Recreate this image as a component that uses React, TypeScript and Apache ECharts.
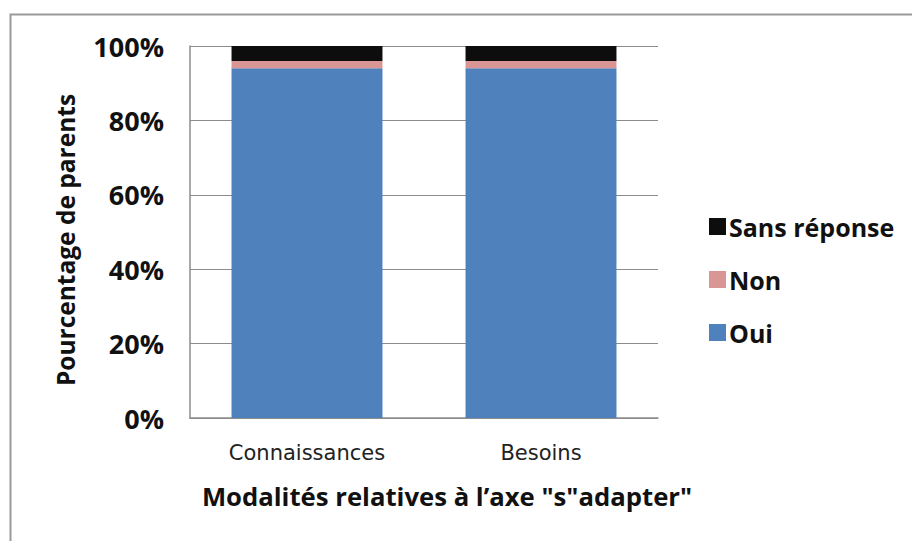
import React, { useEffect, useRef } from "react";
import * as echarts from "echarts";

const categories = ["Connaissances", "Besoins"];
const oui = [94, 94];
const non = [2, 2];
const sansReponse = [4, 4];
const legendOrder = ["Sans réponse", "Non", "Oui"];

const FONT = "'Open Sans', Lato, sans-serif";

export default function App() {
  const ref = useRef<HTMLDivElement>(null);

  useEffect(() => {
    if (!ref.current) return;
    const chart = echarts.init(ref.current, undefined, { renderer: "svg" });
    const barCommon = {
      type: "bar" as const,
      stack: "total",
      barCategoryGap: "35.5%",
    };
    chart.setOption({
      animation: false,
      backgroundColor: "#ffffff",
      graphic: [
        {
          type: "rect",
          shape: { x: 10.5, y: 14.5, width: 1000, height: 700 },
          style: { fill: "none", stroke: "#9a9a9a", lineWidth: 2 },
          silent: true,
        },
      ],
      grid: { left: 190, right: 254, top: 46, bottom: 123 },
      legend: {
        data: legendOrder,
        orient: "vertical",
        left: 704,
        top: 209,
        itemWidth: 17,
        itemHeight: 17,
        itemGap: 28,
        icon: "rect",
        textStyle: {
          fontFamily: FONT,
          fontWeight: "bold",
          fontSize: 25,
          color: "#111",
          padding: [0, 0, 0, -2],
        },
      },
      xAxis: {
        type: "category",
        data: categories,
        name: "Modalités relatives à l’axe \"s\"adapter\"",
        nameLocation: "middle",
        nameGap: 65,
        nameTextStyle: {
          fontFamily: FONT,
          fontWeight: "bold",
          fontSize: 25.7,
          color: "#111",
          padding: [0, 0, 0, 46],
        },
        axisLine: { lineStyle: { color: "#8c8c8c", width: 1.5 } },
        axisTick: { show: false },
        axisLabel: {
          fontFamily: "'DejaVu Sans', sans-serif",
          fontSize: 21,
          color: "#222",
          margin: 24,
        },
      },
      yAxis: {
        type: "value",
        min: 0,
        max: 100,
        interval: 20,
        name: "Pourcentage de parents",
        nameLocation: "middle",
        nameGap: 112,
        nameTextStyle: {
          fontFamily: FONT,
          fontWeight: "bold",
          fontSize: 24.5,
          color: "#111",
          padding: [0, 16, 0, 0],
        },
        axisLine: { show: true, lineStyle: { color: "#8c8c8c", width: 1.5 } },
        axisTick: { show: false },
        splitLine: { lineStyle: { color: "#8c8c8c", width: 1.2 } },
        axisLabel: {
          formatter: "{value}%",
          fontFamily: FONT,
          fontWeight: "bold",
          fontSize: 27,
          color: "#111",
          margin: 26,
        },
      },
      series: [
        { ...barCommon, name: "Oui", data: oui, itemStyle: { color: "#4F81BD" } },
        { ...barCommon, name: "Non", data: non, itemStyle: { color: "#D99694" } },
        {
          ...barCommon,
          name: "Sans réponse",
          data: sansReponse,
          itemStyle: { color: "#0D0D0D" },
        },
      ],
    });
    return () => chart.dispose();
  }, []);

  return (
    <div
      ref={ref}
      style={{ position: "fixed", left: 0, top: 0, width: 912, height: 541 }}
    />
  );
}
